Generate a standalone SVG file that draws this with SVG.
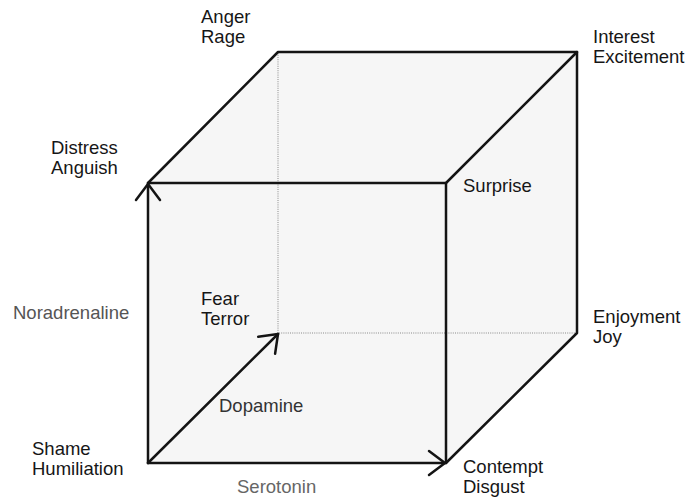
<svg xmlns="http://www.w3.org/2000/svg" width="698" height="499" viewBox="0 0 698 499">
<style>
  text { font-family: "Liberation Sans", Arial, sans-serif; font-size: 18.5px; fill: #161616; }
  .axis { fill: #555; }
  .edge { stroke: #141414; stroke-width: 2.5; fill: none; stroke-linecap: round; stroke-linejoin: round; }
  .hidden { stroke: #8a8a8a; stroke-width: 1; stroke-dasharray: 1 1.2; fill: none; }
</style>
<defs>
  <marker id="arrow" markerUnits="userSpaceOnUse" markerWidth="40" markerHeight="40" refX="0" refY="0" viewBox="-20 -20 40 40" orient="auto" overflow="visible">
    <path d="M-16,-12 L0,0 L-16,12" fill="none" stroke="#141414" stroke-width="2.5" stroke-linecap="round" stroke-linejoin="round"/>
  </marker>
</defs>
<rect width="698" height="499" fill="#ffffff"/>
<g id="cube-fill">
  <polygon points="148,183 278,52 577,52 577,333 446,463 148,463" fill="#f6f6f6"/>
</g>
<g id="connectors">
  <path class="hidden" d="M278,333 L278,53"/>
  <path class="hidden" d="M279,333 L576,333"/>
  <path class="edge" d="M148,183 L278,52 L577,52 L577,333 L446,463"/>
  <path class="edge" d="M148,183 L446,183 L446,463"/>
  <path class="edge" d="M446,183 L577,52"/>
  <path class="edge" d="M148,463 L148,184" marker-end="url(#arrow)"/>
  <path class="edge" d="M148,463 L445,463" marker-end="url(#arrow)"/>
  <path class="edge" d="M148,463 L278,334" marker-end="url(#arrow)"/>
</g>
<g id="node-anger"><text x="201" y="23">Anger</text><text x="201" y="43">Rage</text></g>
<g id="node-interest"><text x="593" y="43">Interest</text><text x="593" y="63">Excitement</text></g>
<g id="node-distress"><text x="51" y="154">Distress</text><text x="51" y="174">Anguish</text></g>
<g id="node-surprise"><text x="463" y="192">Surprise</text></g>
<g id="node-fear"><text x="201" y="305">Fear</text><text x="201" y="325">Terror</text></g>
<g id="node-enjoyment"><text x="593" y="323">Enjoyment</text><text x="593" y="343">Joy</text></g>
<g id="node-shame"><text x="32" y="455">Shame</text><text x="32" y="475">Humiliation</text></g>
<g id="node-contempt"><text x="463" y="473">Contempt</text><text x="463" y="493">Disgust</text></g>
<g id="axis-labels">
  <text class="axis" x="13" y="319">Noradrenaline</text>
  <text class="axis" x="219" y="412" style="fill:#333">Dopamine</text>
  <text class="axis" x="237" y="493" style="fill:#666">Serotonin</text>
</g>
</svg>
